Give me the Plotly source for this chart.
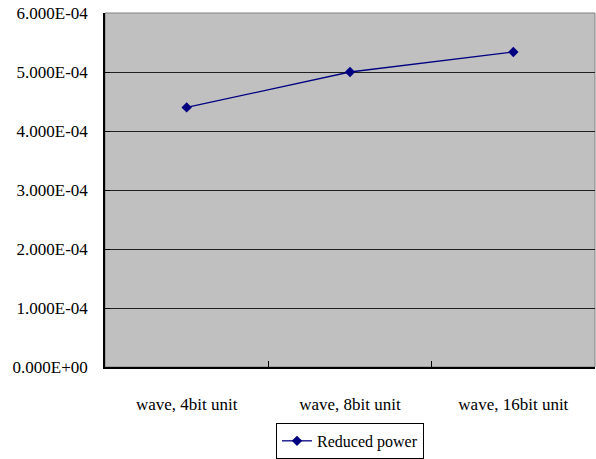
import plotly.graph_objects as go

# Chart data
categories = ["wave, 4bit unit", "wave, 8bit unit", "wave, 16bit unit"]
reduced_power = [4.40e-4, 5.00e-4, 5.34e-4]
y_ticks = [0, 1e-4, 2e-4, 3e-4, 4e-4, 5e-4, 6e-4]
y_tick_labels = ["0.000E+00", "1.000E-04", "2.000E-04", "3.000E-04",
                 "4.000E-04", "5.000E-04", "6.000E-04"]

FONT = "Times New Roman, Liberation Serif, serif"

fig = go.Figure()
fig.add_trace(go.Scatter(
    x=categories,
    y=reduced_power,
    mode="lines+markers",
    name="Reduced power",
    line=dict(color="#000080", width=1.3),
    marker=dict(symbol="diamond", size=8, color="#000080"),
))

fig.update_layout(
    width=596,
    height=459,
    margin=dict(l=105, r=1, t=13, b=92, autoexpand=False),
    paper_bgcolor="white",
    plot_bgcolor="#C0C0C0",
    font=dict(family=FONT, size=17, color="black"),
    showlegend=True,
    legend=dict(
        x=0.5, xanchor="center",
        y=-0.158, yanchor="top",
        orientation="h",
        bgcolor="white",
        bordercolor="black",
        borderwidth=1,
        font=dict(family=FONT, size=16, color="black"),
        itemwidth=30,
    ),
)

fig.update_xaxes(
    type="category",
    range=[-0.5, 2.5],
    showgrid=False,
    showline=True,
    linecolor="black",
    linewidth=1.5,
    mirror=False,
    ticks="inside",
    ticklen=6,
    tickcolor="black",
    tickson="boundaries",
    ticklabelstandoff=21,
    zeroline=False,
)

fig.update_yaxes(
    range=[0, 6e-4],
    tickvals=y_ticks,
    ticktext=y_tick_labels,
    showgrid=True,
    gridcolor="#202020",
    gridwidth=1,
    showline=True,
    linecolor="black",
    linewidth=1.5,
    ticks="inside",
    ticklen=5,
    tickcolor="black",
    ticklabelstandoff=12,
    zeroline=False,
)

# thin grey border along the top and right of the plotting area
fig.add_shape(type="rect", xref="paper", yref="paper", x0=0, y0=0, x1=1, y1=1,
              line=dict(color="#808080", width=1), layer="below")

fig.write_html("out.html")
